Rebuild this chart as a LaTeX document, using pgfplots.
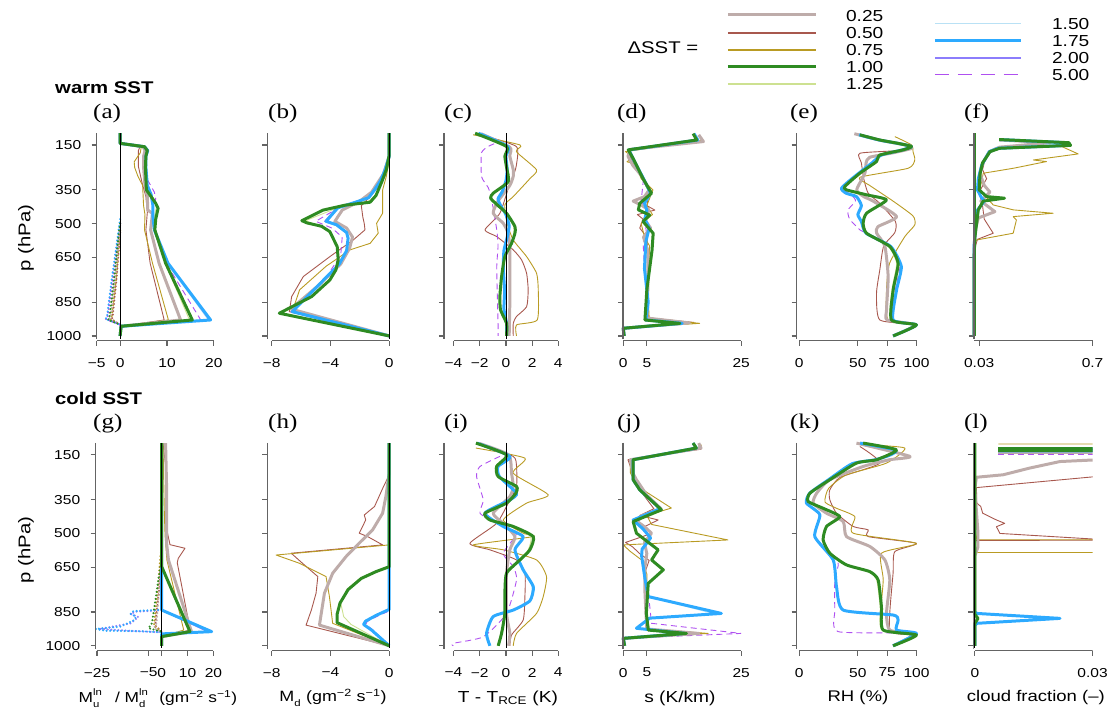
\documentclass[border=0pt]{standalone}
\usepackage{pgfplots}
\pgfplotsset{compat=1.18}
\usepackage{fontspec}
\setmainfont[FakeStretch=1.2]{Liberation Sans}
\newfontfamily\pserif[FakeStretch=1.2]{Liberation Serif}
\newcommand\fs[1]{\fontsize{#1}{#1}\selectfont}
\newcommand\ssub[2]{\rlap{\raisebox{-0.55ex}{\fs{9.5}#1}}\raisebox{0.95ex}{\fs{9.5}#2}}
\definecolor{cqa}{RGB}{190,172,170}
\definecolor{cqb}{RGB}{168,88,78}
\definecolor{cqc}{RGB}{185,155,35}
\definecolor{cqd}{RGB}{46,139,34}
\definecolor{cqe}{RGB}{205,225,145}
\definecolor{cqf}{RGB}{185,225,245}
\definecolor{cqg}{RGB}{45,170,255}
\definecolor{cqh}{RGB}{140,125,252}
\definecolor{cqi}{RGB}{175,80,240}
\definecolor{axg}{RGB}{100,100,100}
\pgfplotsset{
  panel/.style={scale only axis, height=208.1bp, y dir=reverse, ymin=95, ymax=1021,
    clip=false, axis lines=left, axis line style={draw=none}, scaled ticks=false,
    tick align=outside, major tick length=5bp, tick style={draw=axg, line width=1.2pt},
    ytick={150,350,500,650,850,1000}, yticklabels={},
    xticklabel style={font=\fs{13}, text=black, yshift=-9bp},
    yticklabel style={font=\fs{13}, text=black, xshift=-7bp},
    anchor=south west},
  firstcol/.style={yticklabels={150,350,500,650,850,1000}},
  sm/.style={every axis plot/.append style={smooth, tension=0.35}},
  s025/.style={cqa, line width=3pt, line join=round},
  s050/.style={cqb, line width=0.9pt, line join=round},
  s075/.style={cqc, line width=0.9pt, line join=round},
  s100/.style={cqd, line width=3pt, line join=round},
  s125/.style={cqe, line width=0.9pt, line join=round},
  s150/.style={cqf, line width=0.9pt, line join=round},
  s175/.style={cqg, line width=3pt, line join=round},
  s200/.style={cqh, line width=0.9pt, line join=round},
  s500/.style={cqi, line width=0.9pt, dash pattern=on 6pt off 4pt},
  dt/.style={line width=2.3pt, dash pattern=on 0pt off 3.6pt, line cap=round},
  zl/.style={black, line width=0.8pt, sharp plot},
}
\newcommand\axl[3]{\draw[axg,line width=1.5pt] (axis cs:#1,97) -- (axis cs:#1,1015); \draw[axg,line width=1.5pt] (axis cs:#2,1021) -- (axis cs:#3,1021);}
\begin{document}
\begin{tikzpicture}[x=1bp,y=1bp]
\path (0,0) rectangle (1111,712);
% ---------------- (a)
\begin{axis}[panel, firstcol, at={(96.7bp,371.3bp)}, width=121.9bp, xmin=-5, xmax=21, xtick={-5,0,10,20}, xticklabels={−5,0,10,20}]
\addplot[dt,cqb] coordinates {(0,540) (-0.8,751) (-1.6,915) (-1.8,926) (0,950)};
\addplot[dt,cqc] coordinates {(0,530) (-0.9,751) (-1.8,915) (-2.0,926) (0,950)};
\addplot[dt,cqa] coordinates {(0,510) (-1.1,751) (-2.0,915) (-2.3,926) (0,950)};
\addplot[dt,cqi] coordinates {(0,500) (-1.6,751) (-2.7,915) (-3.0,925) (0,950)};
\addplot[dt,cqg] coordinates {(0,480) (-1.8,751) (-2.8,915) (-3.1,925) (0,950)};
\addplot[dt,cqd] coordinates {(0,500) (-0.2,528) (-1.3,751) (-2.3,921) (-2.6,928) (0,950)};
\addplot[s050] coordinates {(0,97) (0,143) (4.2,160) (3.9,175) (3.9,246) (4.7,320) (5.5,380) (5.8,450) (5.5,528) (6.4,676) (9.4,929) (0.2,957) (0,1000)};
\addplot[s075] coordinates {(0,97) (0,143) (4.5,160) (4.3,185) (3.0,225) (3.1,250) (3.8,290) (4.8,330) (5.0,420) (5.3,460) (5.2,528) (6.9,676) (10.3,929) (0.2,957) (0,1000)};
\addplot[s125] coordinates {(0,97) (0,143) (5.1,158) (5.7,175) (5.4,200) (5.4,250) (5.6,330) (6.4,360) (7.4,400) (7.7,430) (7.2,480) (7.3,528) (9.6,676) (14.8,929) (0.2,957) (0,1000)};
\addplot[s150] coordinates {(0,97) (0,143) (5.2,158) (5.9,175) (5.5,200) (5.5,250) (5.8,330) (6.6,370) (7.0,420) (7.0,470) (7.3,528) (10.1,676) (18.8,929) (0.2,957) (0,1000)};
\addplot[s500] coordinates {(0,97) (0,143) (5.3,158) (5.9,175) (5.6,200) (5.7,300) (7.3,360) (7.6,390) (7.0,430) (7.2,528) (9.8,676) (17.2,929) (0.2,957) (0,1000)};
\addplot[s200] coordinates {(0,97) (0,143) (5.2,158) (5.9,175) (5.5,200) (5.5,250) (5.8,330) (6.7,370) (7.0,420) (7.1,470) (7.3,528) (10.2,676) (19.0,929) (0.2,957) (0,1000)};
\addplot[s025] coordinates {(0,97) (0,143) (4.9,158) (5.3,175) (5.0,200) (5.0,250) (5.3,330) (5.8,380) (5.9,440) (6.9,455) (6.5,528) (8.3,676) (12.9,929) (0.2,957) (0,1000)};
\addplot[s175] coordinates {(0,97) (0,143) (5.2,158) (5.9,175) (5.5,200) (5.5,250) (5.8,330) (6.6,370) (7.0,420) (7.0,470) (7.3,528) (10.2,676) (19.3,929) (0.2,957) (0,1000)};
\addplot[s100] coordinates {(0,97) (0,143) (5.2,158) (5.8,175) (5.5,200) (5.4,250) (5.6,350) (7.6,410) (8.1,432) (7.6,480) (7.4,528) (9.7,676) (15.4,929) (0.2,957) (0,1000)};
\addplot[zl] coordinates {(0,97) (0,1012)};
\axl{-5}{-5}{20}
\end{axis}
% ---------------- (b)
\begin{axis}[panel, at={(267.3bp,371.3bp)}, width=126.4bp, xmin=-8.3, xmax=0.3, xtick={-8,-4,0}, xticklabels={−8,−4,0}]
\addplot[s050] coordinates {(0,97) (0,220) (-0.3,290) (-0.8,340) (-1.3,380) (-1.9,420) (-1.8,470) (-1.7,500) (-1.65,528) (-2.45,573) (-4.04,647) (-5.85,736) (-6.64,825) (-6.8,892) (0,1000)};
\addplot[s075] coordinates {(0,97) (0,220) (-0.2,290) (-0.45,350) (-0.45,454) (-0.86,499) (-0.75,543) (-1.3,588) (-2.67,617) (-4.3,690) (-6.1,795) (-6.6,892) (0,1000)};
\addplot[s125] coordinates {(0,97) (0,195) (-0.2,260) (-0.5,313) (-0.9,375) (-1.4,400) (-3.6,432) (-5.7,487) (-5.2,500) (-4.0,536) (-3.5,603) (-3.5,662) (-3.7,706) (-4.1,751) (-5.3,825) (-7.3,899) (0,1000)};
\addplot[s150] coordinates {(0,97) (0,200) (-0.3,265) (-0.6,310) (-1.0,350) (-1.4,385) (-2.3,405) (-3.5,430) (-4.2,490) (-3.6,505) (-2.9,540) (-2.8,565) (-2.9,620) (-3.4,680) (-4.9,780) (-6.5,892) (0,1000)};
\addplot[s500] coordinates {(0,97) (0,200) (-0.3,265) (-0.7,320) (-1.5,387) (-3.2,420) (-5.0,490) (-3.9,520) (-3.2,560) (-3.3,640) (-4.5,760) (-6.6,892) (0,1000)};
\addplot[s200] coordinates {(0,97) (0,200) (-0.3,265) (-0.6,310) (-1.0,350) (-1.5,385) (-2.4,405) (-3.6,430) (-4.4,490) (-3.6,505) (-2.9,540) (-2.8,565) (-2.9,620) (-3.4,680) (-4.9,780) (-6.7,892) (0,1000)};
\addplot[s025] coordinates {(0,97) (0,200) (-0.4,280) (-0.8,320) (-1.2,360) (-2.0,400) (-3.2,440) (-3.7,490) (-2.9,520) (-2.5,560) (-2.7,610) (-3.3,680) (-4.9,780) (-6.7,880) (0,1000)};
\addplot[s175] coordinates {(0,97) (0,200) (-0.3,265) (-0.6,310) (-1.0,350) (-1.4,385) (-2.3,405) (-3.5,430) (-4.3,490) (-3.6,505) (-2.9,540) (-2.8,565) (-2.9,620) (-3.4,680) (-4.9,780) (-6.6,892) (0,1000)};
\addplot[s100] coordinates {(0,97) (0,195) (-0.2,260) (-0.5,313) (-0.9,375) (-1.3,405) (-3.0,418) (-4.5,440) (-5.95,487) (-5.6,497) (-4.6,512) (-4.04,536) (-3.54,603) (-3.47,662) (-3.63,706) (-4.04,751) (-5.28,825) (-7.48,899) (0,1000)};
\addplot[zl] coordinates {(0,97) (0,1012)};
\axl{-8.3}{-8}{0}
\end{axis}
% ---------------- (c)
\begin{axis}[panel, sm, at={(444bp,371.3bp)}, width=118.3bp, xmin=-4.73, xmax=4.3, xtick={-4,-2,0,2,4}, xticklabels={−4,−2,0,2,4}]
\addplot[s050] coordinates {(-1.6,110) (0.8,157) (0.8,240) (0.56,290) (0.2,340) (-0.46,454) (-1.6,528) (-0.7,558) (0.56,617) (1.2,662) (1.58,721) (1.7,795) (1.58,870) (0.8,914) (0.56,944) (0.56,1000)};
\addplot[s075] coordinates {(-2.5,105) (1.07,150) (0.8,180) (2.34,261) (1.83,300) (0.56,380) (-0.08,417) (0.1,500) (0.56,573) (1.58,647) (2.34,721) (2.47,795) (2.39,929) (0.81,951) (0.81,1000)};
\addplot[s125] coordinates {(-2.3,98) (0.05,157) (-0.05,200) (0.05,250) (0.15,313) (-0.9,365) (-1.1,387) (-0.5,420) (0.05,454) (0.6,513) (0.6,543) (0.4,588) (-0.05,647) (-0.3,736) (-0.4,825) (-0.35,884) (0.05,944) (0.05,1000)};
\addplot[s150] coordinates {(-2.1,98) (0.15,157) (0.0,200) (0.1,260) (0.0,310) (-0.3,360) (-0.6,390) (-0.4,420) (0.0,460) (0.25,510) (0.1,560) (-0.15,620) (-0.2,700) (-0.1,800) (-0.15,880) (0.05,944) (0.05,1000)};
\addplot[s500] coordinates {(-0.9,145) (-1.35,157) (-1.86,185) (-1.86,291) (-1.35,340) (-1.1,390) (-0.7,528) (-0.6,600) (-0.7,700) (-0.6,944) (-0.6,1000)};
\addplot[s200] coordinates {(-2.1,98) (0.15,157) (0.0,200) (0.1,260) (0.0,310) (-0.35,360) (-0.65,390) (-0.4,420) (0.0,460) (0.2,510) (0.1,560) (-0.15,620) (-0.2,700) (-0.1,800) (-0.15,880) (0.05,944) (0.05,1000)};
\addplot[s025] coordinates {(-1.9,100) (0.3,160) (0.3,200) (0.56,260) (0.56,290) (0.3,330) (-0.6,400) (-0.97,454) (-0.2,499) (0.15,540) (0.3,600) (0.3,700) (0.3,850) (0.25,1000)};
\addplot[s175] coordinates {(-2.1,98) (0.15,157) (0.0,200) (0.1,260) (0.0,310) (-0.3,360) (-0.6,390) (-0.4,420) (0.0,460) (0.25,510) (0.1,560) (-0.15,620) (-0.2,700) (-0.1,800) (-0.15,880) (0.05,944) (0.05,1000)};
\addplot[s100] coordinates {(-2.35,98) (0.05,157) (-0.08,200) (0.05,250) (0.18,313) (-0.97,365) (-1.17,387) (-0.6,420) (0.05,454) (0.69,513) (0.69,543) (0.43,588) (-0.08,647) (-0.33,736) (-0.46,825) (-0.41,884) (0.05,944) (0.05,1000)};
\addplot[zl] coordinates {(0,97) (0,1012)};
\axl{-4.73}{-4}{4}
\end{axis}
% ---------------- (d)
\begin{axis}[panel, at={(623.3bp,371.3bp)}, width=122.7bp, xmin=0, xmax=26, xtick={0,5,25}, xticklabels={0,5,25}]
\addplot[s050] coordinates {(16.0,110) (17.0,135) (1.0,172) (2.0,230) (4.5,320) (5.5,360) (5.0,420) (6.7,440) (3.0,460) (4.2,480) (3.5,520) (5.0,560) (5.3,650) (5.0,800) (5.3,920) (15.0,940) (0,966) (0.2,1000)};
\addplot[s075] coordinates {(16.2,110) (16.6,130) (0.5,180) (2.0,205) (0.8,225) (2.6,235) (3.8,300) (6.3,350) (5.0,420) (6.2,460) (3.8,500) (4.5,560) (5.6,600) (5.2,800) (5.5,920) (16.2,944) (0,966) (0.2,1000)};
\addplot[s125] coordinates {(14.8,100) (15.4,128) (1.1,172) (2.1,210) (4.2,300) (5.9,365) (3.6,410) (3.4,439) (5.5,462) (4.3,491) (6.2,543) (6.0,620) (5.0,795) (4.7,929) (12.0,944) (0,966) (0.2,1000)};
\addplot[s150] coordinates {(15.0,100) (15.8,128) (1.2,172) (2.3,220) (4.3,300) (5.7,365) (4.5,410) (5.0,440) (4.6,480) (5.5,520) (4.8,580) (4.5,700) (5.3,850) (4.8,929) (12.5,944) (0,966) (0.2,1000)};
\addplot[s500] coordinates {(15.0,100) (15.8,128) (1.2,172) (2.3,220) (4.3,300) (4.0,360) (3.8,400) (5.0,440) (4.6,480) (5.0,560) (4.2,580) (4.5,700) (5.3,850) (4.8,929) (12.5,944) (0,966) (0.2,1000)};
\addplot[s200] coordinates {(15.0,100) (15.8,128) (1.2,172) (2.3,220) (4.3,300) (5.6,365) (4.4,410) (5.1,440) (4.6,480) (5.4,520) (4.7,580) (4.5,700) (5.3,850) (4.8,929) (12.5,944) (0,966) (0.2,1000)};
\addplot[s025] coordinates {(16.0,105) (17.0,135) (1.5,170) (1.0,200) (2.0,240) (4.0,290) (5.5,350) (4.5,380) (2.1,400) (4.0,420) (5.5,440) (4.5,480) (5.8,520) (4.3,560) (5.2,620) (5.2,800) (4.9,920) (14.0,942) (0,966) (0.2,1000)};
\addplot[s175] coordinates {(15.0,100) (15.8,128) (1.2,172) (2.3,220) (4.3,300) (5.8,365) (4.5,410) (5.0,440) (4.6,480) (5.5,520) (4.8,580) (4.5,700) (5.3,850) (4.8,929) (12.5,944) (0,966) (0.2,1000)};
\addplot[s100] coordinates {(14.8,100) (15.6,128) (1.06,172) (2.1,210) (4.2,300) (6.0,365) (3.5,410) (3.2,439) (5.6,462) (4.2,491) (6.35,543) (6.1,620) (5.0,795) (4.6,929) (12.0,944) (0,966) (0.2,1000)};
\addplot[zl] coordinates {(0,97) (0,1012)};
\axl{0}{0}{25}
\end{axis}
% ---------------- (e)
\begin{axis}[panel, sm, at={(796.7bp,371.3bp)}, width=122.3bp, xmin=-2.2, xmax=102, xtick={0,50,75,100}, xticklabels={0,50,75,100}]
\addplot[s050] coordinates {(50,105) (70,128) (90,150) (96,160) (85,175) (51.7,187) (53,230) (55,300) (58.8,365) (68.7,410) (82,491) (81.5,540) (72,600) (68.7,706) (65.9,810) (68.7,929) (99,951) (80,1000)};
\addplot[s075] coordinates {(81.5,113) (95.7,150) (97,180) (98.5,217) (92.8,254) (51.7,294) (60,330) (80,400) (97,466) (98.5,506) (90,558) (77,677) (74.4,795) (75.8,929) (99.9,951) (80,1000)};
\addplot[s125] coordinates {(51.7,105) (68.7,128) (84.3,143) (95.7,157) (88.6,172) (68.7,195) (65.9,224) (51.7,276) (39.5,335) (41,350) (57.4,372) (73,395) (57.4,454) (55,499) (58,543) (76,602) (83,677) (79,795) (78,929) (99.9,951) (80,1000)};
\addplot[s150] coordinates {(51,105) (68,128) (84,143) (95.7,157) (88,172) (70,195) (62,230) (45,300) (36.5,343) (40,365) (48.8,380) (53,420) (50,460) (53,491) (57,543) (78,602) (86.5,691) (83,795) (80,929) (99.9,951) (80,1000)};
\addplot[s500] coordinates {(51,105) (68,128) (84,143) (95.7,157) (88,172) (70,195) (62,230) (46,300) (37,343) (45,375) (48,400) (41.5,440) (43,480) (51.7,528) (57.4,543) (78,602) (86,680) (82,795) (79,929) (99.9,951) (80,1000)};
\addplot[s200] coordinates {(51,105) (68,128) (84,143) (95.7,157) (88,172) (70,195) (62,230) (45,300) (36,343) (40,365) (48.8,380) (53,420) (50,460) (53,491) (57,543) (78,602) (87,691) (83,795) (80,929) (99.9,951) (80,1000)};
\addplot[s025] coordinates {(47,100) (70,130) (90,150) (96,165) (80,185) (60,205) (57,230) (56,276) (49,350) (55,380) (63,400) (83,469) (67,514) (66,543) (73,600) (75.8,736) (74.4,885) (75,929) (99,951) (80,1000)};
\addplot[s175] coordinates {(51,105) (68,128) (84,143) (95.7,157) (88,172) (70,195) (62,230) (45,300) (36,343) (40,365) (48.8,380) (53,420) (50,460) (53,491) (57,543) (78,602) (87,691) (83,795) (80,929) (99.9,951) (80,1000)};
\addplot[s100] coordinates {(51.7,105) (68.7,128) (84.3,143) (95.7,157) (88.6,172) (68.7,195) (65.9,224) (51.7,276) (38.9,335) (40.3,350) (57.4,372) (74.4,395) (57.4,454) (54.5,499) (57.4,543) (77.2,602) (84.3,677) (80.1,795) (78.6,929) (99.9,951) (80.1,1000)};
\axl{-2.2}{0}{100}
\end{axis}
% ---------------- (f)
\begin{axis}[panel, at={(974.2bp,371.3bp)}, width=118.5bp, xmin=0, xmax=0.7, xtick={0.03,0.7}, xticklabels={0.03,0.7}]
\addplot[s050] coordinates {(0.15,128) (0.43,140) (0.12,165) (0.07,200) (0.05,260) (0.074,300) (0.03,360) (0.05,420) (0.06,480) (0.113,543) (0.02,570) (0,620) (0,1000)};
\addplot[s075] coordinates {(0.153,128) (0.467,140) (0.615,190) (0.35,217) (0.428,224) (0.231,254) (0.054,276) (0.034,350) (0.113,417) (0.231,439) (0.467,454) (0.231,469) (0.25,484) (0.231,543) (0.015,573) (0,590) (0,1000)};
\addplot[s500] coordinates {(0.148,126) (0.5,140) (0.5,152) (0.14,165) (0.1,180) (0.05,240) (0.025,300) (0.02,350) (0.04,380) (0.05,400) (0.02,440) (0.01,500) (0,600) (0,1000)};
\addplot[s025] coordinates {(0.15,128) (0.45,140) (0.15,160) (0.09,180) (0.05,230) (0.034,276) (0.06,330) (0.094,360) (0.04,400) (0.123,447) (0.025,475) (0.01,520) (0,600) (0,1000)};
\addplot[s175] coordinates {(0.148,126) (0.54,140) (0.55,152) (0.14,165) (0.09,180) (0.045,240) (0.025,300) (0.02,350) (0.04,380) (0.06,400) (0.02,440) (0.01,500) (0,600) (0,1000)};
\addplot[s100] coordinates {(0,97) (0,1000)};
\addplot[s100] coordinates {(0.148,126) (0.56,140) (0.57,152) (0.15,165) (0.094,180) (0.05,230) (0.035,280) (0.03,350) (0.074,380) (0.18,387) (0.054,400) (0.025,439) (0.015,499) (0.005,560) (0,650) (0,1000)};
\addplot[zl] coordinates {(0,97) (0,1012)};
\axl{0}{0}{0.7}
\end{axis}
% ---------------- (g)
\begin{axis}[panel, firstcol, at={(95.7bp,61.4bp)}, width=120.4bp, xmin=-25.5, xmax=21, xtick={-25,-5,0,10,20}, xticklabels={−25,−5,0,10,20}]
\addplot[dt,cqb] coordinates {(0,580) (-1,750) (-2.5,910) (0,937)};
\addplot[dt,cqc] coordinates {(0,570) (-0.5,600) (-1.5,750) (-3,910) (0,937)};
\addplot[dt,cqa] coordinates {(0,600) (-1,750) (-2,900) (-3,922) (0,937)};
\addplot[dt,cqh] coordinates {(0,842) (-10,848) (-12,858) (-9,872) (-12,900) (-24,925) (-10,935) (0,940)};
\addplot[dt,cqg] coordinates {(0,840) (-5,842) (-11,846) (-12,858) (-10,870) (-10.5,885) (-16,915) (-25.5,925) (-22,933) (-8,935) (0,940)};
\addplot[dt,cqd] coordinates {(0,618) (-1.3,707) (-2.6,811) (-3.8,900) (-5.1,922) (0,937)};
\addplot[s050] coordinates {(0.5,98) (1.0,150) (1.9,230) (1.9,480) (3.2,550) (9.0,566) (6.4,611) (6.0,630) (11.0,930) (0,959) (0,1000)};
\addplot[s075] coordinates {(0.5,98) (1.0,400) (1.3,510) (2.0,618) (8.5,930) (0,959) (0,1000)};
\addplot[s125] coordinates {(0,98) (0,648) (10.5,937) (0,959) (0,1000)};
\addplot[s150] coordinates {(0,98) (0,841) (18.5,937) (0,947) (0,1000)};
\addplot[s200] coordinates {(0,98) (0,841) (17.6,937) (0,947) (0,1000)};
\addplot[s025] coordinates {(1.5,98) (1.9,300) (1.9,543) (2.6,618) (11.5,937) (0,959) (0,1000)};
\addplot[s175] coordinates {(0,98) (0,841) (19.3,937) (0,947) (0,1000)};
\addplot[s100] coordinates {(0,98) (0,648) (10.9,937) (0,959) (0,1000)};
\addplot[zl] coordinates {(0,97) (0,1012)};
\axl{-25.5}{-25}{20}
\end{axis}
% ---------------- (h)
\begin{axis}[panel, at={(267.3bp,61.4bp)}, width=126.4bp, xmin=-8.3, xmax=0.3, xtick={-8,-4,0}, xticklabels={−8,−4,0}]
\addplot[s050] coordinates {(0,98) (0,239) (-0.45,300) (-1.0,380) (-1.7,418) (-1.6,440) (-2.04,499) (-1.47,514) (-0.45,551) (-6.67,588) (-5.9,633) (-4.86,692) (-4.98,766) (-5.3,841) (-5.66,908) (0,1000)};
\addplot[s075] coordinates {(0,98) (0,551) (-7.7,596) (-6.1,633) (-4.3,692) (-4.07,781) (-3.85,900) (0,1000)};
\addplot[s125] coordinates {(0,98) (0,648) (-1.0,670) (-2.0,700) (-2.9,750) (-3.3,810) (-3.1,870) (-2.6,905) (0,1000)};
\addplot[s150] coordinates {(0,98) (0,835) (-1.0,865) (-1.7,890) (-1.8,905) (-1.3,930) (0,1000)};
\addplot[s500] coordinates {(0,98) (0,845) (-0.8,868) (-1.5,892) (-1.6,905) (-1.1,930) (0,1000)};
\addplot[s200] coordinates {(0,98) (0,838) (-0.9,865) (-1.6,890) (-1.7,905) (-1.2,930) (0,1000)};
\addplot[s025] coordinates {(0,98) (0,230) (-0.23,336) (-0.45,410) (-1.13,484) (-2.04,543) (-2.94,603) (-3.85,677) (-4.41,766) (-4.75,908) (0,1000)};
\addplot[s175] coordinates {(0,98) (0,838) (-0.9,865) (-1.6,890) (-1.75,905) (-1.2,930) (0,1000)};
\addplot[s100] coordinates {(0,98) (0,648) (-0.9,670) (-1.9,700) (-2.8,750) (-3.35,810) (-3.55,860) (-3.55,897) (0,1000)};
\addplot[zl] coordinates {(0,97) (0,1012)};
\axl{-8.3}{-8}{0}
\end{axis}
% ---------------- (i)
\begin{axis}[panel, sm, at={(444bp,61.4bp)}, width=118.3bp, xmin=-4.73, xmax=4.3, xtick={-4,-2,0,2,4}, xticklabels={−4,−2,0,2,4}]
\addplot[s050] coordinates {(-1.8,110) (0.56,157) (0.81,202) (0.81,291) (0.3,351) (-0.71,455) (-2.75,544) (-1.22,573) (0.81,618) (1.45,677) (1.45,781) (1.32,885) (0.43,952) (0.3,1000)};
\addplot[s075] coordinates {(-2.29,120) (1.45,165) (0.56,232) (3.23,328) (1.58,365) (-0.2,440) (1.32,499) (2.09,514) (-2.49,551) (-0.2,573) (2.34,618) (3.1,692) (2.85,781) (2.34,856) (0.81,945) (0.56,1000)};
\addplot[s125] coordinates {(-2.2,98) (0.05,150) (-0.6,202) (-0.5,247) (0.75,291) (0.7,321) (0.05,365) (-1.5,410) (-1.1,440) (0.5,469) (1.9,514) (1.7,573) (1.0,618) (0.05,677) (-0.1,766) (-0.1,856) (-0.4,945) (-0.65,1000)};
\addplot[s150] coordinates {(-2.2,98) (0.3,157) (-0.6,202) (-0.5,247) (0.81,321) (0.3,351) (-1.6,410) (-0.2,469) (1.32,514) (0.69,573) (1.32,662) (2.0,737) (1.8,800) (0.56,841) (-0.97,870) (-1.5,945) (-1.3,1000)};
\addplot[s500] coordinates {(-0.46,157) (-1.98,202) (-2.24,247) (-1.73,351) (-1.98,410) (-0.71,455) (0.81,499) (-0.2,588) (0.56,648) (0.81,707) (0.05,856) (-1.73,960) (-4.02,989) (-4.02,1000)};
\addplot[s200] coordinates {(-2.2,98) (0.3,157) (-0.6,202) (-0.5,247) (0.81,321) (0.3,351) (-1.6,410) (-0.2,469) (1.3,514) (0.7,573) (1.3,662) (2.1,737) (1.83,800) (0.56,841) (-0.97,870) (-1.48,945) (-1.22,1000)};
\addplot[s025] coordinates {(-2.0,100) (0.2,150) (0.43,232) (0.56,291) (0.3,336) (-0.97,410) (-0.2,455) (0.69,514) (0.3,573) (0.05,677) (0.05,856) (0.3,945) (0.2,1000)};
\addplot[s175] coordinates {(-2.2,98) (0.3,157) (-0.6,202) (-0.5,247) (0.81,321) (0.3,351) (-1.6,410) (-0.2,469) (1.32,514) (0.69,573) (1.32,662) (2.09,737) (1.83,800) (0.56,841) (-0.97,870) (-1.48,945) (-1.22,1000)};
\addplot[s100] coordinates {(-2.29,98) (0.05,150) (-0.71,202) (-0.59,247) (0.81,291) (0.76,321) (0.05,365) (-1.6,410) (-1.22,440) (0.56,469) (2.09,514) (1.83,573) (1.07,618) (0.05,677) (-0.08,766) (-0.08,856) (-0.33,945) (-0.59,1000)};
\addplot[zl] coordinates {(0,97) (0,1012)};
\axl{-4.73}{-4}{4}
\end{axis}
% ---------------- (j)
\begin{axis}[panel, at={(623.3bp,61.4bp)}, width=122.7bp, xmin=0, xmax=26, xtick={0,5,25}, xticklabels={0,5,25}]
\addplot[s050] coordinates {(16,110) (16.5,125) (1.0,172) (2.5,261) (4.0,320) (6.5,390) (3.5,420) (7.4,440) (4.5,470) (6,500) (0.5,540) (2.0,560) (3.5,590) (5.5,620) (4.5,680) (4.8,856) (5,925) (13,945) (0,967) (0.3,1000)};
\addplot[s075] coordinates {(16.5,105) (16.5,120) (1.5,172) (1.5,230) (3,290) (10.2,387) (5,420) (6,460) (22.2,529) (0,551) (1.5,580) (4,620) (5,680) (5,850) (5.5,925) (18,945) (0,967) (0.3,1000)};
\addplot[s125] coordinates {(14.8,98) (15.3,120) (2.2,172) (2.2,261) (3.6,306) (7.9,395) (2.3,447) (3.0,499) (7.2,573) (6.0,618) (8.2,662) (5.3,722) (5.0,856) (5.3,930) (13,945) (0,967) (0.3,1000)};
\addplot[s150] coordinates {(14.8,98) (15.5,120) (2.1,172) (2.1,261) (3.5,306) (7.6,390) (2.2,440) (4.2,480) (5.8,520) (4.0,570) (3.9,600) (4.6,700) (5.3,781) (19,856) (5.6,877) (2.8,922) (13,945) (0,967) (0.3,1000)};
\addplot[s500] coordinates {(15,98) (15.5,120) (2.1,172) (2.2,261) (3.6,306) (7.6,390) (2.3,440) (4.2,480) (5.8,520) (4.0,570) (3.9,600) (4.6,700) (5.5,800) (6,900) (25,945) (0,967) (0.3,1000)};
\addplot[s200] coordinates {(14.8,98) (15.5,120) (2.1,172) (2.1,261) (3.5,306) (7.7,390) (2.1,440) (4.3,480) (5.8,520) (4.0,570) (3.9,600) (4.6,700) (5.3,781) (20.8,856) (5.6,877) (2.8,922) (13,945) (0,967) (0.3,1000)};
\addplot[s025] coordinates {(16,98) (16.5,120) (1.5,172) (2.0,230) (2.8,261) (5,330) (8,390) (4,420) (3,447) (4.5,470) (6,499) (4.5,540) (5,590) (4.6,650) (4.6,760) (4.8,850) (5,925) (16,945) (0,967) (0.3,1000)};
\addplot[s175] coordinates {(14.8,98) (15.5,120) (2.1,172) (2.1,261) (3.5,306) (7.8,390) (2.1,440) (4.2,480) (5.8,520) (4.0,570) (3.9,600) (4.6,700) (5.3,781) (20.8,856) (5.6,877) (2.8,922) (13,945) (0,967) (0.3,1000)};
\addplot[s100] coordinates {(14.8,98) (15.5,120) (2.1,172) (2.1,261) (3.5,306) (8.1,395) (2.1,447) (2.8,499) (7.4,573) (6.0,618) (8.5,662) (5.3,722) (4.9,856) (5.3,930) (13.4,945) (0,967) (0.3,1000)};
\addplot[zl] coordinates {(0,97) (0,1012)};
\axl{0}{0}{25}
\end{axis}
% ---------------- (k)
\begin{axis}[panel, sm, at={(796.7bp,61.4bp)}, width=122.3bp, xmin=-2.2, xmax=102, xtick={0,50,75,100}, xticklabels={0,50,75,100}]
\addplot[s050] coordinates {(51.7,113) (68.7,187) (35,250) (26.1,306) (26.1,350) (31.8,410) (46,469) (58.8,484) (58.8,514) (99.9,544) (81.5,581) (80,677) (77.2,930) (97,952) (80,1000)};
\addplot[s075] coordinates {(56,105) (90,120) (74.4,187) (40,240) (25,300) (22,360) (31.8,388) (47.4,425) (46,499) (99.9,544) (70.1,588) (71.6,707) (70.1,922) (97,952) (80,1000)};
\addplot[s125] coordinates {(54.5,98) (82,128) (66,172) (49,187) (26.5,261) (9.5,321) (8.2,358) (20,388) (33.5,425) (23.8,469) (21,529) (27,588) (41,640) (59,670) (66,707) (69,826) (70.5,930) (99.9,952) (80,1000)};
\addplot[s150] coordinates {(52,98) (82,128) (78,150) (65,172) (45,190) (25,261) (9,321) (6.4,365) (17.4,417) (13.5,514) (29,618) (31.8,737) (37.5,841) (79,863) (84,885) (82.5,930) (99.9,945) (80,1000)};
\addplot[s500] coordinates {(52,98) (82,128) (65,172) (45,190) (25,261) (9,321) (6.5,365) (17,417) (13.5,514) (33,625) (30.4,700) (30.4,841) (33.2,937) (99.9,945) (80,1000)};
\addplot[s200] coordinates {(52,98) (82,128) (78,150) (65,172) (45,190) (25,261) (9,321) (6.0,365) (17.2,417) (13.0,514) (28.5,618) (31.5,737) (37.5,841) (80,863) (84.3,885) (82.9,930) (99.9,945) (80,1000)};
\addplot[s025] coordinates {(48.8,98) (94.3,157) (77,172) (54.5,202) (26,261) (15,320) (12,365) (23.3,410) (37.5,447) (40.3,514) (60.2,558) (73,618) (77.2,707) (74.4,856) (77.2,930) (97,952) (80,1000)};
\addplot[s175] coordinates {(52,98) (82,128) (78,150) (65,172) (45,190) (25,261) (9,321) (6.2,365) (17.6,417) (13.3,514) (29,618) (31.8,737) (37.5,841) (80,863) (84.3,885) (82.9,930) (99.9,945) (80,1000)};
\addplot[s100] coordinates {(54.5,98) (82.9,128) (65.9,172) (48.8,187) (26.1,261) (9.1,321) (7.7,358) (20.4,388) (34.6,425) (23.3,469) (20.4,529) (26.1,588) (40.3,640) (60.2,670) (67.3,707) (70.1,826) (71.6,930) (99.9,952) (80,1000)};
\axl{-2.2}{0}{100}
\end{axis}
% ---------------- (l)
\begin{axis}[panel, clip=true, at={(973.4bp,61.4bp)}, width=119.3bp, xmin=-0.0004, xmax=0.03, xtick={0,0.03}, xticklabels={0,0.03}]
\addplot[s050] coordinates {(0.06,200) (0.0004,296) (0.0005,365) (0.0015,380) (0.002,410) (0.0055,440) (0.0076,455) (0.0055,470) (0.0064,500) (0.035,530) (0.0003,531) (0,560) (0,1000)};
\addplot[s075] coordinates {(0.006,102) (0.6,102.5) (0.6,126) (0.006,126)};
\addplot[s075] coordinates {(0,470) (0.0005,528) (0.5,529) (0.5,584) (0.0005,585) (0,600) (0,1000)};
\addplot[s125] coordinates {(0,98) (0,860) (0.001,880) (0,900) (0,1000)};
\addplot[s150] coordinates {(0,98) (0,850) (0.0005,856) (0.02,878) (0.0005,900) (0,910) (0,1000)};
\addplot[s500] coordinates {(0.006,150) (0.2,150)};
\addplot[s200] coordinates {(0,98) (0,850) (0.0005,856) (0.019,878) (0.0005,900) (0,910) (0,1000)};
\addplot[s025] coordinates {(0.006,141) (0.2,141)};
\addplot[s025] coordinates {(0.2,150) (0.04,165) (0.0217,180) (0.014,209) (0.0072,239) (0.0004,250) (0,300) (0.0008,500) (0.0008,560) (0,600) (0,1000)};
\addplot[s175] coordinates {(0.006,124) (0.6,124) (0.6,132) (0.006,133)};
\addplot[s175] coordinates {(0,850) (0.0005,856) (0.0217,878) (0.0005,900) (0,910) (0,1000)};
\addplot[s100] coordinates {(0.006,121) (0.6,121) (0.6,131) (0.006,131)};
\addplot[s100] coordinates {(0,98) (0,860) (0.0008,878) (0,900) (0,1000)};
\addplot[zl] coordinates {(0,97) (0,1012)};
\axl{-0.0004}{0}{0.03}
\end{axis}
% ---------------- texts
\node[anchor=west, inner sep=0, font=\fs{17}\bfseries] at (55,624) {warm SST};
\node[anchor=west, inner sep=0, font=\fs{17}\bfseries] at (55,313) {cold SST};
\node[rotate=90, inner sep=0, font=\fs{17}] at (26,474) {p (hPa)};
\node[rotate=90, inner sep=0, font=\fs{17}] at (26,162) {p (hPa)};
\foreach \lab/\xx in {a/93,b/268,c/444,d/617,e/790,f/964}{\node[anchor=west, inner sep=0, font=\pserif\fs{21}] at (\xx,599) {(\lab)};}
\foreach \lab/\xx in {g/93,h/268,i/444,j/617,k/790,l/964}{\node[anchor=west, inner sep=0, font=\pserif\fs{21}] at (\xx,288) {(\lab)};}
\node[font=\fs{14.5}, inner sep=0] at (158,14) {M\ssub{u}{ln}\hspace{0.9em}/ M\ssub{d}{ln}\hspace{0.8em}(gm\textsuperscript{−2} s\textsuperscript{−1})};
\node[font=\fs{15}, inner sep=0] at (333,14) {M\ssub{d}{}\hspace{0.45em} (gm\textsuperscript{−2} s\textsuperscript{−1})};
\node[font=\fs{16}, inner sep=0] at (508,14) {T - T\textsubscript{RCE} (K)};
\node[font=\fs{16}, inner sep=0] at (680,14) {s (K/km)};
\node[font=\fs{15.5}, inner sep=0] at (858,14) {RH (\%)};
\node[font=\fs{15.5}, inner sep=0] at (1036,14) {cloud fraction (–)};
% ---------------- legend
\node[font=\fs{17}, inner sep=0] at (663,664) {ΔSST =};
\draw[cqa, line width=3pt] (728,697) -- (816,697);
\draw[cqb, line width=1.2pt] (728,679) -- (816,679);
\draw[cqc, line width=1.2pt] (728,662) -- (816,662);
\draw[cqd, line width=3pt] (728,645) -- (816,645);
\draw[cqe, line width=1.2pt] (728,628) -- (816,628);
\draw[cqf, line width=1.2pt] (935,688.7) -- (1021,688.7);
\draw[cqg, line width=3pt] (935,671.3) -- (1021,671.3);
\draw[cqh, line width=1.7pt] (935,654.3) -- (1021,654.3);
\draw[cqi, line width=1.2pt, dash pattern=on 14pt off 9pt] (935,637.3) -- (1021,637.3);
\foreach \t/\yy in {0.25/696,0.50/679,0.75/662,1.00/644.5,1.25/627.5}{\node[anchor=west, inner sep=0, font=\fs{16}] at (846,\yy) {\t};}
\foreach \t/\yy in {1.50/687.5,1.75/670.5,2.00/653.5,5.00/636.5}{\node[anchor=west, inner sep=0, font=\fs{16}] at (1052,\yy) {\t};}
\end{tikzpicture}
\end{document}
